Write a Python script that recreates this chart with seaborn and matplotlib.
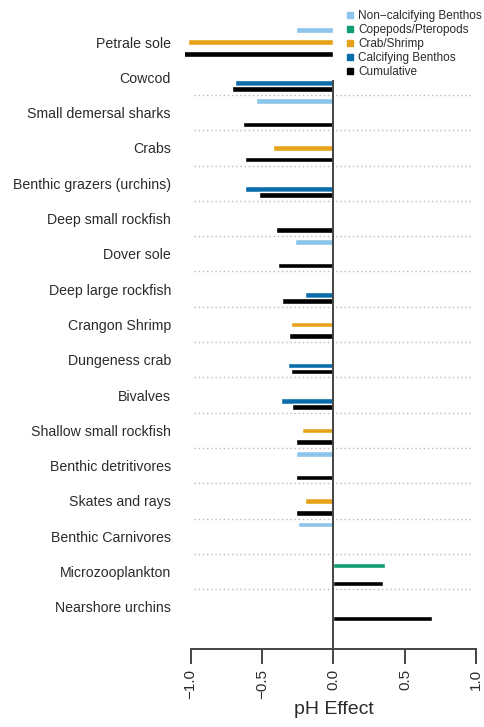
import numpy as np
import pandas as pd
import seaborn as sns
import matplotlib.pyplot as plt
from matplotlib.lines import Line2D

# Groups, top to bottom
groups = ["Petrale sole", "Cowcod", "Small demersal sharks", "Crabs",
          "Benthic grazers (urchins)", "Deep small rockfish", "Dover sole",
          "Deep large rockfish", "Crangon Shrimp", "Dungeness crab", "Bivalves",
          "Shallow small rockfish", "Benthic detritivores", "Skates and rays",
          "Benthic Carnivores", "Microzooplankton", "Nearshore urchins"]

series = ["Non\u2212calcifying Benthos", "Copepods/Pteropods", "Crab/Shrimp",
          "Calcifying Benthos", "Cumulative"]
nan = np.nan
non_calcifying = [-0.26, nan, -0.54, nan, nan, nan, -0.27, nan, nan, nan, nan,
                  nan, -0.26, nan, -0.25, nan, nan]
copepods = [nan] * 15 + [0.36, nan]
crab_shrimp = [-1.02, nan, nan, -0.42, nan, nan, nan, nan, -0.30, nan, nan,
               -0.22, nan, -0.20, nan, nan, nan]
calcifying = [nan, -0.69, nan, nan, -0.62, nan, nan, -0.20, nan, -0.32, -0.37,
              nan, nan, nan, nan, nan, nan]
cumulative = [-1.05, -0.71, -0.63, -0.62, -0.52, -0.40, -0.39, -0.36, -0.31,
              -0.30, -0.29, -0.26, -0.26, -0.26, nan, 0.35, 0.69]
xticks = [-1.0, -0.5, 0.0, 0.5, 1.0]

colors = ["#8cc4ea", "#119e73", "#e6a21a", "#0a6dab", "#000000"]

df = pd.DataFrame({"group": groups * 5,
                   "series": np.repeat(series, len(groups)),
                   "effect": non_calcifying + copepods + crab_shrimp + calcifying + cumulative})

sns.set_theme(style="white")
plt.rcParams["font.family"] = ["Liberation Sans", "DejaVu Sans"]
txt = "#2b2b2b"

fig = plt.figure(figsize=(4.85, 7.27), dpi=100)
ax = fig.add_axes([0.381, 0.107, 0.613, 0.893])

# dotted separators between groups
for i in range(1, len(groups) - 1):
    ax.axhline(i + 0.5, xmin=0.03, xmax=0.97, color="#b8b8b8", lw=1.0,
               ls=(0, (1, 2)), zorder=0)

sns.barplot(data=df, y="group", x="effect", hue="series", hue_order=series,
            order=groups, palette=colors, orient="h", width=5 / 6, gap=0.05,
            dodge=True, legend=False, ax=ax, errorbar=None, saturation=1)

ax.vlines(0, groups.index("Cowcod") + 0.08, len(groups) + 0.3,
          color="#444444", lw=1.4, zorder=3)

ax.set_xlim(-1.04, 1.04)
ax.set_ylim(17.2, -1.19)
for s in ["top", "right", "left"]:
    ax.spines[s].set_visible(False)
ax.spines["bottom"].set_bounds(-1, 1)
ax.spines["bottom"].set_color("#444444")
ax.spines["bottom"].set_linewidth(1.4)

ax.set_xticks(xticks)
ax.set_xticklabels([f"{v:.1f}".replace("-", "\u2212") for v in xticks],
                   rotation=90, fontsize=11, color=txt)
ax.tick_params(axis="x", length=11, width=1.4, color="#444444", pad=3,
               bottom=True)
ax.tick_params(axis="y", length=0, pad=10, labelsize=10.2, labelcolor=txt)
ax.set_ylabel("")
ax.set_xlabel("pH Effect", fontsize=14, color=txt, labelpad=2)

handles = [Line2D([], [], marker="s", ls="", color=c, markersize=4) for c in colors]
fig.legend(handles, series, loc="upper left", bbox_to_anchor=(0.695, 0.998),
           frameon=False, fontsize=8.5, handletextpad=0.3, labelspacing=0.18,
           borderpad=0.2, handlelength=0.8, labelcolor=txt)

fig.savefig("out.png", dpi=100)
